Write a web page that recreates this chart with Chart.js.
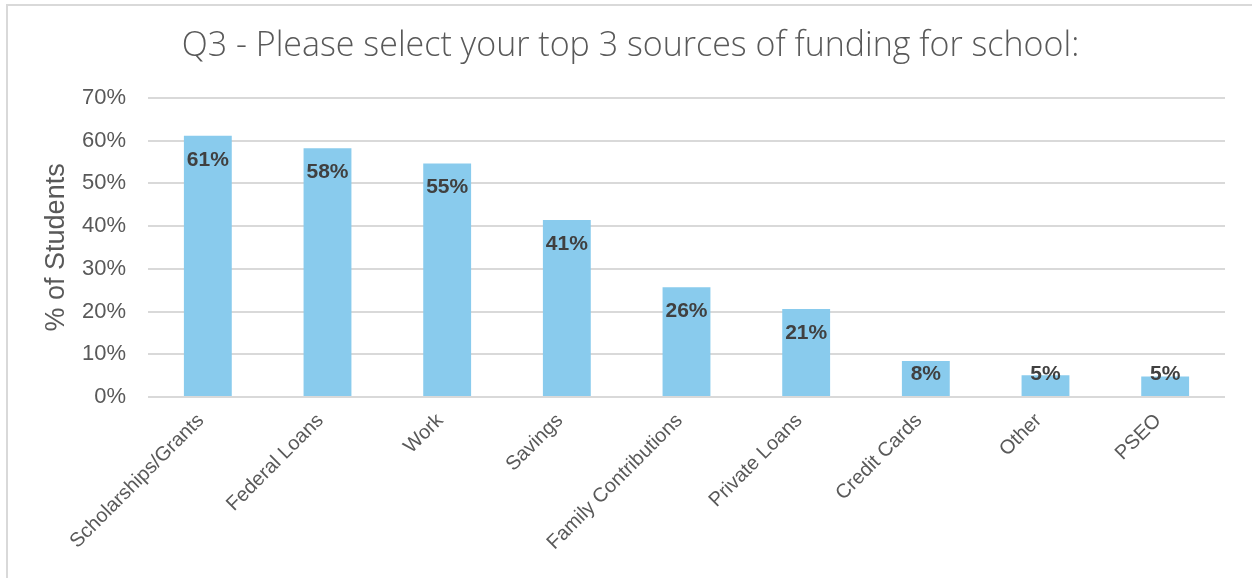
<!DOCTYPE html>
<html>
<head>
<meta charset="utf-8">
<title>Q3 funding sources</title>
<script src="https://cdn.jsdelivr.net/npm/chart.js@4.4.1/dist/chart.umd.min.js"></script>
<style>
  body { margin: 0; background: #fff; }
  #wrap { position: relative; width: 1252px; height: 578px; overflow: hidden; }
  #frame {
    position: absolute; left: 6px; top: 4px;
    width: 1300px; height: 700px;
    border: 2px solid #d9d9d9;
  }
  #chart { position: absolute; left: 0; top: 0; }
</style>
</head>
<body>
<div id="wrap">
  <div id="frame"></div>
  <canvas id="chart" width="1252" height="578"></canvas>
</div>
<script>
// values (percent of students)
var categories = ['Scholarships/Grants', 'Federal Loans', 'Work', 'Savings',
  'Family Contributions', 'Private Loans', 'Credit Cards', 'Other', 'PSEO'];
var percentStudents = [61.1, 58.2, 54.6, 41.4, 25.7, 20.6, 8.4, 5.1, 4.8];
var yTicks = [0, 10, 20, 30, 40, 50, 60, 70];

var axisFont = '"Liberation Sans", Arial, sans-serif';
var textGrey = '#595959';

// Excel style "inside end" labels, pushed up on short bars
var barLabels = {
  id: 'barLabels',
  afterDatasetsDraw: function(chart) {
    var ctx = chart.ctx;
    var meta = chart.getDatasetMeta(0);
    var base = chart.scales.y.getPixelForValue(0);
    ctx.save();
    ctx.font = 'bold 21px ' + axisFont;
    ctx.fillStyle = '#404040';
    ctx.textAlign = 'center';
    ctx.textBaseline = 'middle';
    meta.data.forEach(function(bar, i) {
      var y = Math.min(bar.y + 24, base - 23);
      ctx.fillText(Math.round(percentStudents[i]) + '%', bar.x, y);
    });
    ctx.restore();
  }
};

new Chart(document.getElementById('chart'), {
  type: 'bar',
  data: {
    labels: categories,
    datasets: [{
      data: percentStudents,
      backgroundColor: '#89cbed',
      borderWidth: 0,
      barPercentage: 0.4,
      categoryPercentage: 1
    }]
  },
  options: {
    responsive: false,
    animation: false,
    devicePixelRatio: 1,
    layout: { padding: { top: 5, right: 27, bottom: 0, left: 36 } },
    plugins: {
      legend: { display: false },
      tooltip: { enabled: false },
      title: {
        display: true,
        text: 'Q3 - Please select your top 3 sources of funding for school:',
        color: textGrey,
        font: { family: '"Open Sans"', weight: '300', size: 34 },
        padding: { top: 21, bottom: 31 }
      }
    },
    scales: {
      x: {
        grid: { display: false },
        border: { display: false },
        ticks: {
          color: textGrey,
          font: { family: axisFont, size: 20 },
          minRotation: 45,
          maxRotation: 45,
          autoSkip: false,
          labelOffset: -7,
          padding: 4
        },
        afterFit: function(scale) { scale.height = 578 - 397; }
      },
      y: {
        min: 0,
        max: 70,
        afterBuildTicks: function(scale) {
          scale.ticks = yTicks.map(function(v) { return { value: v }; });
        },
        grid: { color: '#d9d9d9', lineWidth: 2, drawTicks: false },
        border: { display: false },
        ticks: {
          color: textGrey,
          font: { family: axisFont, size: 22 },
          padding: 22,
          callback: function(v) { return v + '%'; }
        },
        title: {
          display: true,
          text: '% of Students',
          color: textGrey,
          font: { family: axisFont, size: 27 },
          padding: { top: 4, bottom: 0 }
        },
        afterFit: function(scale) { scale.width = 148 - 36; }
      }
    }
  },
  plugins: [barLabels]
});
</script>
</body>
</html>
